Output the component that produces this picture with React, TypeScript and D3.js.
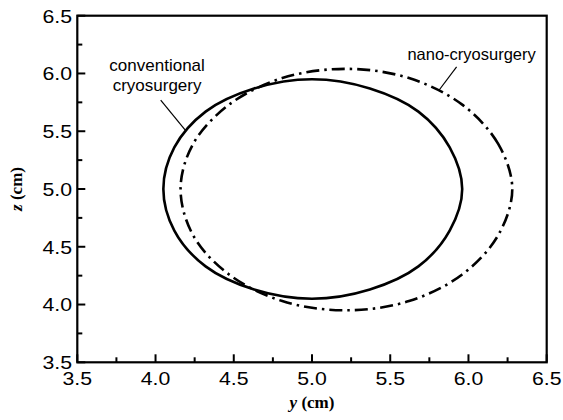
import React from "react";
import * as d3 from "d3";

const W = 563;
const H = 420;

// x (y in cm) and z (cm) axis ranges and tick labels
const yDomain: [number, number] = [3.5, 6.5];
const zDomain: [number, number] = [3.5, 6.5];
const majorTicks = [3.5, 4.0, 4.5, 5.0, 5.5, 6.0, 6.5];
const minorTicks = [3.75, 4.25, 4.75, 5.25, 5.75, 6.25];

// conventional cryosurgery contour (y, z)
const conventional: [number, number][] = [
  [5.96, 5.0], [5.88, 5.36], [5.68, 5.67], [5.37, 5.87], [5.0, 5.95],
  [4.63, 5.87], [4.32, 5.67], [4.12, 5.36], [4.05, 5.0], [4.12, 4.64],
  [4.32, 4.33], [4.63, 4.13], [5.0, 4.05], [5.37, 4.13], [5.68, 4.33],
  [5.88, 4.64],
];

// nano-cryosurgery contour (y, z)
const nano: [number, number][] = [
  [6.28, 5.0], [6.19, 5.39], [5.96, 5.73], [5.62, 5.96], [5.22, 6.04],
  [4.81, 5.96], [4.47, 5.73], [4.24, 5.39], [4.16, 5.0], [4.24, 4.6],
  [4.47, 4.26], [4.81, 4.03], [5.22, 3.95], [5.62, 4.03], [5.96, 4.26],
  [6.19, 4.6],
];

// annotation texts and leader lines (data coords)
const convLabel = ["conventional", "cryosurgery"];
const convLabelPos: [number, number] = [4.01, 6.02];
const convLeader: [number, number][] = [[4.033, 5.77], [4.19, 5.51]];
const nanoLabel = "nano-cryosurgery";
const nanoLabelPos: [number, number] = [6.02, 6.116];
const nanoLeader: [number, number][] = [[5.924, 6.058], [5.813, 5.857]];

const left = 77.3;
const right = 546.7;
const top = 15.7;
const bottom = 362.3;

export default function App() {
  const x = d3.scaleLinear().domain(yDomain).range([left, right]);
  const y = d3.scaleLinear().domain(zDomain).range([bottom, top]);
  const line = d3
    .line<[number, number]>()
    .x((d) => x(d[0]))
    .y((d) => y(d[1]))
    .curve(d3.curveCatmullRomClosed.alpha(0.5));
  const seg = d3
    .line<[number, number]>()
    .x((d) => x(d[0]))
    .y((d) => y(d[1]));
  const sans = "'Liberation Sans', Arial, Helvetica, sans-serif";
  const serif = "'Liberation Serif', 'Times New Roman', serif";
  const tickFont = 19;
  const stretch = 1.12;
  return (
    <svg
      width={W}
      height={H}
      style={{ position: "absolute", left: 0, top: 0, background: "#fff" }}
    >
      <rect x={0} y={0} width={W} height={H} fill="#fff" />
      {/* curves */}
      <path d={line(conventional) || ""} fill="none" stroke="#000" strokeWidth={2.6} />
      <path
        d={line(nano) || ""}
        fill="none"
        stroke="#000"
        strokeWidth={2.6}
        strokeDasharray="13 5 2.5 5"
      />
      {/* frame */}
      <rect
        x={left}
        y={top}
        width={right - left}
        height={bottom - top}
        fill="none"
        stroke="#000"
        strokeWidth={2.2}
      />
      {/* ticks */}
      {majorTicks.map((t) => (
        <g key={"mx" + t}>
          <line x1={x(t)} x2={x(t)} y1={bottom} y2={bottom - 8} stroke="#000" strokeWidth={2} />
          <line x1={left} x2={left + 8} y1={y(t)} y2={y(t)} stroke="#000" strokeWidth={2} />
        </g>
      ))}
      {minorTicks.map((t) => (
        <g key={"mn" + t}>
          <line x1={x(t)} x2={x(t)} y1={bottom} y2={bottom - 5} stroke="#000" strokeWidth={2} />
          <line x1={left} x2={left + 5} y1={y(t)} y2={y(t)} stroke="#000" strokeWidth={2} />
        </g>
      ))}
      {/* tick labels */}
      {majorTicks.map((t) => (
        <text
          key={"lx" + t}
          transform={`translate(${x(t)},385) scale(${stretch},1)`}
          textAnchor="middle"
          fontFamily={sans}
          fontSize={tickFont}
        >
          {t.toFixed(1)}
        </text>
      ))}
      {majorTicks.map((t) => (
        <text
          key={"ly" + t}
          transform={`translate(72,${y(t) + 6.8}) scale(${stretch},1)`}
          textAnchor="end"
          fontFamily={sans}
          fontSize={tickFont}
        >
          {t.toFixed(1)}
        </text>
      ))}
      {/* axis titles */}
      <text
        x={x(5.0)}
        y={408}
        textAnchor="middle"
        fontFamily={serif}
        fontWeight="bold"
        fontSize={17}
      >
        <tspan fontStyle="italic">y</tspan> (cm)
      </text>
      <text
        transform={`translate(21.5, ${y(5.0)}) rotate(-90)`}
        textAnchor="middle"
        fontFamily={serif}
        fontWeight="bold"
        fontSize={17}
      >
        <tspan fontStyle="italic">z</tspan> (cm)
      </text>
      {/* annotations */}
      {convLabel.map((s, i) => (
        <text
          key={s}
          x={x(convLabelPos[0])}
          y={y(convLabelPos[1]) + i * 20}
          textAnchor="middle"
          fontFamily={sans}
          fontSize={17}
        >
          {s}
        </text>
      ))}
      <path d={seg(convLeader) || ""} stroke="#000" strokeWidth={1.2} fill="none" />
      <text
        x={x(nanoLabelPos[0])}
        y={y(nanoLabelPos[1])}
        textAnchor="middle"
        fontFamily={sans}
        fontSize={16.5}
      >
        {nanoLabel}
      </text>
      <path d={seg(nanoLeader) || ""} stroke="#000" strokeWidth={1.2} fill="none" />
    </svg>
  );
}
